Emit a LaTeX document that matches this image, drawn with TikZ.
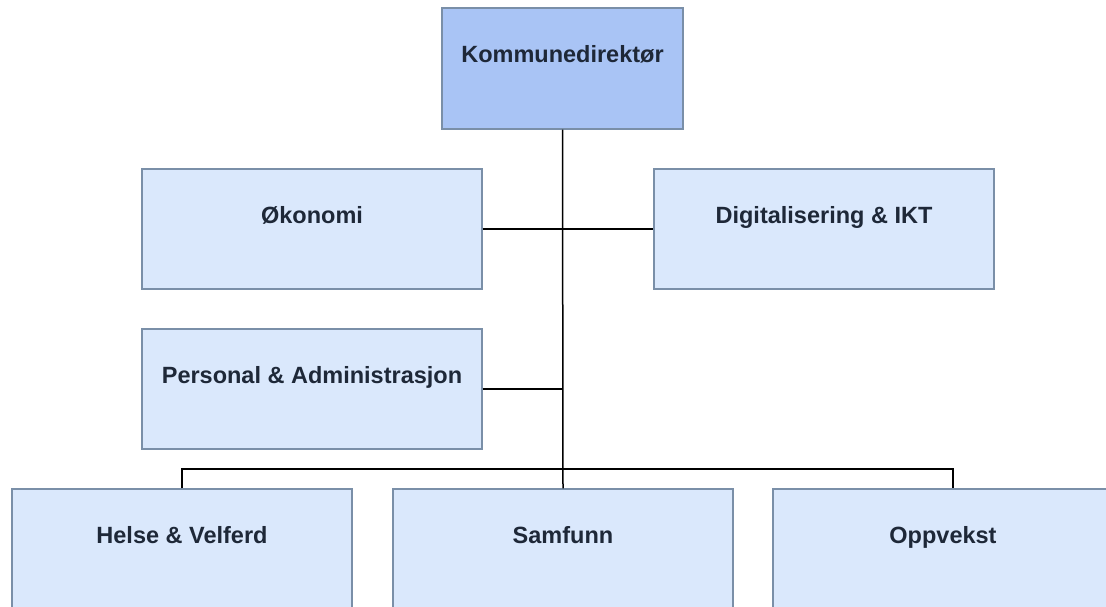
\documentclass[tikz,border=0pt]{standalone}
\usepackage{fontspec}
\setmainfont{Liberation Sans}
\usetikzlibrary{calc}
\definecolor{boxfill}{HTML}{DAE8FC}
\definecolor{kdfill}{HTML}{A9C4F5}
\definecolor{boxline}{HTML}{7A8FA8}
\definecolor{txt}{HTML}{1E2838}
\begin{document}
\begin{tikzpicture}[x=1pt,y=-1pt,
  unit/.style={draw=boxline, fill=boxfill, line width=1.2pt, minimum width=340pt, minimum height=120pt,
    inner sep=0pt, text=txt, font=\fontsize{23.5}{28}\selectfont\bfseries, text height=20pt, text depth=32pt},
  link/.style={draw=black, line width=1.5pt}]
\fill[white] (0,0) rectangle (1106,606);
\useasboundingbox (0,0) rectangle (1106,606);
\clip (0,0) rectangle (1106,606);
\node[unit, fill=kdfill, minimum width=241pt, minimum height=121pt] (kd) at (562.5,68.5) {Kommunedirektør};
\node[unit] (oko) at (312,229) {Økonomi};
\node[unit] (dig) at (824,229) {Digitalisering \& IKT};
\node[unit] (per) at (312,389) {Personal \& Administrasjon};
\node[unit] (hel) at (182,549) {Helse \& Velferd};
\node[unit] (sam) at (563,549) {Samfunn};
\node[unit] (opp) at (943,549) {Oppvekst};
\coordinate (busL) at (182,469);
\coordinate (oppdrop) at ($(opp.north)+(10,0)$);
\draw[link] (kd.south) -- (sam.north);
\draw[link] (oko.east) -- (dig.west);
\draw[link] (per.east) -- (per.east -| kd.south);
\draw[link] (hel.north) -- (busL) -| (oppdrop);
\end{tikzpicture}
\end{document}
